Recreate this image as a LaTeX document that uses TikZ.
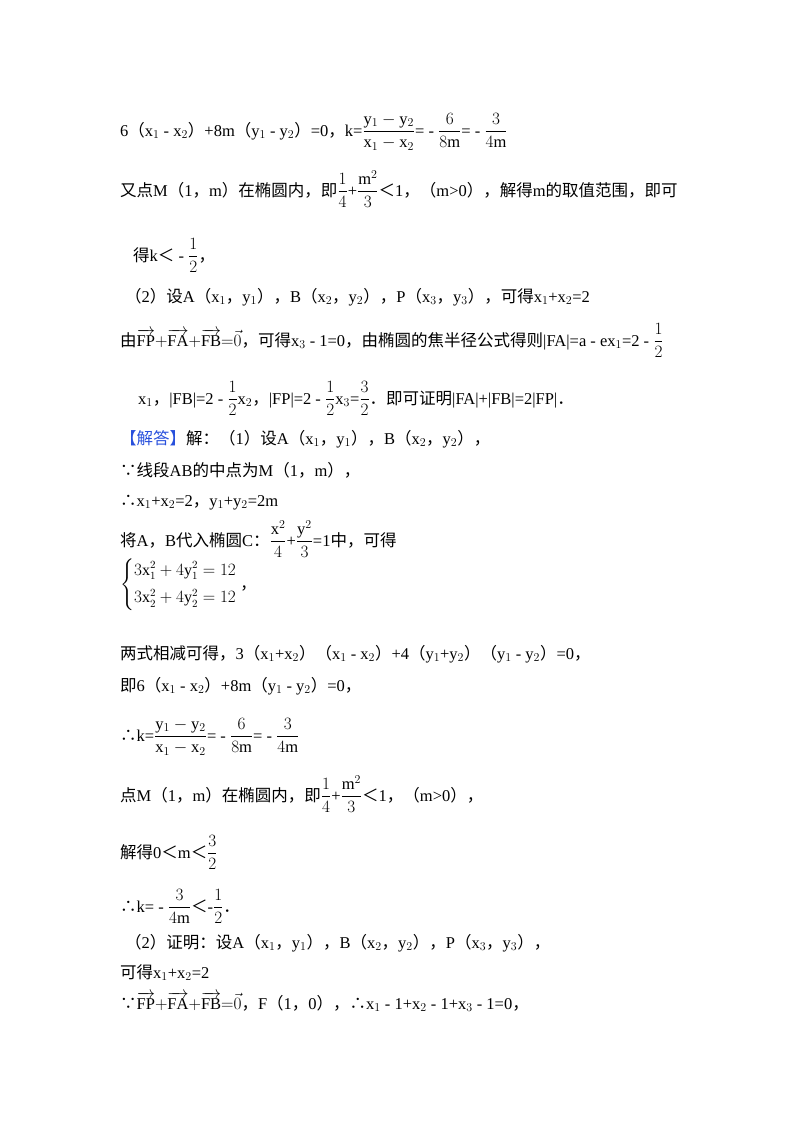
\documentclass[tikz,border=0pt]{standalone}
\usepackage{amsmath}
\usepackage{fontspec}
\setmainfont{Liberation Serif}
\newfontfamily\cjk{Noto Sans CJK SC}
\newcommand\zh[1]{{\cjk #1}}
\newcommand\lp{{\cjk （}}
\newcommand\rp{{\cjk ）}}
\newcommand\cm{{\cjk ，}}
\newcommand\pd{{\cjk ．}}
\newcommand\tf{{\cjk ∴}}
\newcommand\bc{{\cjk ∵}}
\newcommand\vv[1]{\overrightarrow{\mathrm{#1}}}
\begin{document}
\begin{tikzpicture}[x=1pt,y=-1pt,
  ln/.style={anchor=base west,inner sep=0pt,font=\fontsize{16.5}{19}\selectfont}]
\useasboundingbox (0,0) rectangle (800,1132);
\node[ln] (l1) at (120,136) {6\lp x$_1$ - x$_2$\rp +8m\lp y$_1$ - y$_2$\rp =0\cm k=$\dfrac{\mathrm{y}_1-\mathrm{y}_2}{\mathrm{x}_1-\mathrm{x}_2}$= - $\dfrac{6}{8\mathrm{m}}$= - $\dfrac{3}{4\mathrm{m}}$};
\node[ln] (l2) at (120,196) {\zh{又点}M\lp 1\cm m\rp\zh{在椭圆内，即}$\dfrac14$+$\dfrac{\mathrm{m}^2}{3}$\zh{＜}1\cm\lp m>0\rp\cm\zh{解得}m\zh{的取值范围，即可}};
\node[ln] (l3) at (133,261) {\zh{得}k\zh{＜} - $\dfrac12$\cm};
\node[ln] (l4) at (125,302) {\lp 2\rp\zh{设}A\lp x$_1$\cm y$_1$\rp\cm B\lp x$_2$\cm y$_2$\rp\cm P\lp x$_3$\cm y$_3$\rp\cm\zh{可得}x$_1$+x$_2$=2};
\node[ln] (l5) at (120,346) {\zh{由}$\vv{FP}{+}\vv{FA}{+}\vv{FB}{=}\vec{0}$\cm\zh{可得}x$_3$ - 1=0\cm\zh{由椭圆的焦半径公式得则}|FA|=a - ex$_1$=2 - $\dfrac12$};
\node[ln] (l6) at (138,404) {x$_1$\cm|FB|=2 - $\dfrac12$x$_2$\cm|FP|=2 - $\dfrac12$x$_3$=$\dfrac32$\pd\zh{即可证明}|FA|+|FB|=2|FP|\pd};
\node[ln] (l7) at (120,444) {\textcolor[RGB]{40,80,220}{\zh{【解答】}}\zh{解：}\lp 1\rp\zh{设}A\lp x$_1$\cm y$_1$\rp\cm B\lp x$_2$\cm y$_2$\rp\cm};
\node[ln] (l8) at (120,476) {\bc\zh{线段}AB\zh{的中点为}M\lp 1\cm m\rp\cm};
\node[ln] (l9) at (120,506) {\tf x$_1$+x$_2$=2\cm y$_1$+y$_2$=2m};
\node[ln] (l10) at (120,546) {\zh{将}A\cm B\zh{代入椭圆}C\zh{：}$\dfrac{\mathrm{x}^2}{4}$+$\dfrac{\mathrm{y}^2}{3}$=1\zh{中，可得}};
\node[ln] (l11) at (120,589) {\fontsize{16}{18}\selectfont$\begin{cases}3\mathrm{x}_1^2+4\mathrm{y}_1^2=12\\[6pt]3\mathrm{x}_2^2+4\mathrm{y}_2^2=12\end{cases}$\kern-0.8em\cm};
\node[ln] (l12) at (120,659) {\zh{两式相减可得，}3\lp x$_1$+x$_2$\rp\lp x$_1$ - x$_2$\rp +4\lp y$_1$+y$_2$\rp\lp y$_1$ - y$_2$\rp =0\cm};
\node[ln] (l13) at (120,691) {\zh{即}6\lp x$_1$ - x$_2$\rp +8m\lp y$_1$ - y$_2$\rp =0\cm};
\node[ln] (l14) at (120,741) {\tf k=$\dfrac{\mathrm{y}_1-\mathrm{y}_2}{\mathrm{x}_1-\mathrm{x}_2}$= - $\dfrac{6}{8\mathrm{m}}$= - $\dfrac{3}{4\mathrm{m}}$};
\node[ln] (l15) at (120,801) {\zh{点}M\lp 1\cm m\rp\zh{在椭圆内，即}$\dfrac14$+$\dfrac{\mathrm{m}^2}{3}$\zh{＜}1\cm\lp m>0\rp\cm};
\node[ln] (l16) at (120,858) {\zh{解得}0\zh{＜}m\zh{＜}$\dfrac32$};
\node[ln] (l17) at (120,912) {\tf k= - $\dfrac{3}{4\mathrm{m}}$\zh{＜}-$\dfrac12$\pd};
\node[ln] (l18) at (125,948) {\lp 2\rp\zh{证明：设}A\lp x$_1$\cm y$_1$\rp\cm B\lp x$_2$\cm y$_2$\rp\cm P\lp x$_3$\cm y$_3$\rp\cm};
\node[ln] (l19) at (120,978) {\zh{可得}x$_1$+x$_2$=2};
\node[ln] (l20) at (120,1009) {\bc$\vv{FP}{+}\vv{FA}{+}\vv{FB}{=}\vec{0}$\cm F\lp 1\cm 0\rp\cm\tf x$_1$ - 1+x$_2$ - 1+x$_3$ - 1=0\cm};
\end{tikzpicture}
\end{document}
